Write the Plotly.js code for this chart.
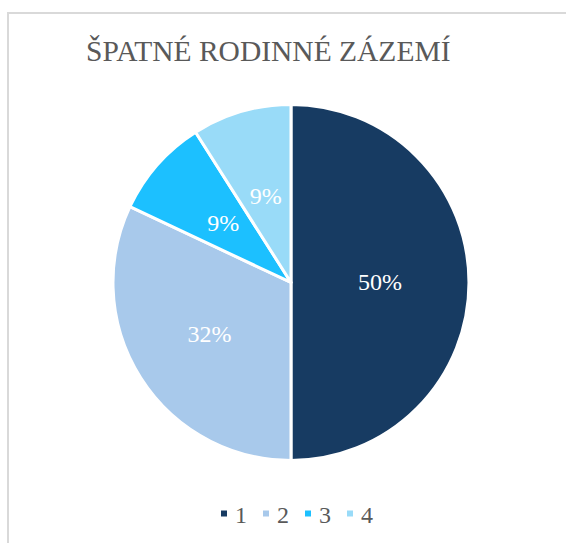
<!DOCTYPE html>
<html>
<head>
<meta charset="utf-8">
<script src="https://cdn.plot.ly/plotly-3.0.1.min.js"></script>
<style>
  html, body { margin: 0; padding: 0; background: #fff; }
  #frame { position: absolute; left: 7px; top: 12px; width: 600px; height: 600px;
           border-left: 2px solid #d9d9d9; border-top: 2px solid #d9d9d9; }
  #chart { position: absolute; left: 0; top: 0; width: 566px; height: 543px; }
</style>
</head>
<body>
<div id="frame"></div>
<div id="chart"></div>
<script>
const categories = ['1', '2', '3', '4'];
const values = [50, 32, 9, 9];
const colors = ['#173b62', '#a8c9eb', '#1cc0ff', '#99dbf8'];
const titleText = 'ŠPATNÉ RODINNÉ ZÁZEMÍ';

const font = "'Liberation Serif', 'Times New Roman', serif";
const pct = '%{percent:.0%}';

// main pie: carries the colours, the legend and the labels of the two large slices
const pie = {
  type: 'pie',
  labels: categories,
  values: values,
  sort: false,
  direction: 'clockwise',
  rotation: 0,
  marker: { colors: colors, line: { color: '#ffffff', width: 3 } },
  texttemplate: [pct, pct, '', ''],
  textposition: 'inside',
  insidetextorientation: 'horizontal',
  textfont: { family: font, size: 24, color: '#ffffff' },
  hoverinfo: 'none',
  domain: { x: [0.1996, 0.8286], y: [0.152, 0.8076] }
};

// transparent inner copy of the same data: places the small-slice labels nearer the centre
const inner = {
  type: 'pie',
  labels: categories,
  values: values,
  sort: false,
  direction: 'clockwise',
  rotation: 0,
  showlegend: false,
  marker: { colors: ['rgba(0,0,0,0)', 'rgba(0,0,0,0)', 'rgba(0,0,0,0)', 'rgba(0,0,0,0)'], line: { width: 0 } },
  texttemplate: ['', '', pct, pct],
  textposition: 'inside',
  insidetextorientation: 'horizontal',
  textfont: { family: font, size: 24, color: '#ffffff' },
  hoverinfo: 'none',
  domain: { x: [0.5141 - 0.2044, 0.5141 + 0.2044], y: [0.4797 - 0.2131, 0.4797 + 0.2131] }
};

const layout = {
  width: 566, height: 543,
  paper_bgcolor: 'rgba(0,0,0,0)',
  plot_bgcolor: 'rgba(0,0,0,0)',
  margin: { l: 0, r: 0, t: 0, b: 0 },
  font: { family: font },
  title: {
    text: titleText,
    font: { family: font, size: 29.5, color: '#595959' },
    x: 0.474, xanchor: 'center',
    yref: 'container', y: 0.906, yanchor: 'middle'
  },
  showlegend: true,
  legend: {
    orientation: 'h',
    x: 0.5, xanchor: 'center',
    y: 0.055, yanchor: 'middle',
    font: { family: font, size: 24, color: '#595959' },
    itemwidth: 30,
    traceorder: 'normal'
  }
};

Plotly.newPlot('chart', [pie, inner], layout, { displayModeBar: false, staticPlot: true }).then(function (gd) {
  // compact legend like the reference: small squares, tight spacing
  const items = gd.querySelectorAll('.legend .traces');
  const spacing = 42;
  items.forEach(function (g, i) {
    const tr = g.getAttribute('transform') || '';
    const m = tr.match(/translate\(([-\d.]+)[ ,]+([-\d.]+)\)/);
    const ty = m ? parseFloat(m[2]) : 0;
    g.setAttribute('transform', 'translate(' + (i * spacing) + ',' + ty + ')');
    const p = g.querySelector('.legendpoints path');
    if (p) p.setAttribute('transform', 'translate(8,0) scale(0.67)');
    const t = g.querySelector('text.legendtext');
    if (t) t.setAttribute('x', 19);
  });
  const legend = gd.querySelector('.legend');
  const first = gd.querySelector('.legend .traces .legendpoints path');
  if (legend && first) {
    const r = first.getBoundingClientRect();
    const cx = r.left + r.width / 2, cy = r.top + r.height / 2;
    const tr = legend.getAttribute('transform') || '';
    const m = tr.match(/translate\(([-\d.]+)[ ,]+([-\d.]+)\)/);
    const lx = m ? parseFloat(m[1]) : 0, ly = m ? parseFloat(m[2]) : 0;
    legend.setAttribute('transform', 'translate(' + (lx + 224 - cx) + ',' + (ly + 513.5 - cy) + ')');
  }
});
</script>
</body>
</html>
